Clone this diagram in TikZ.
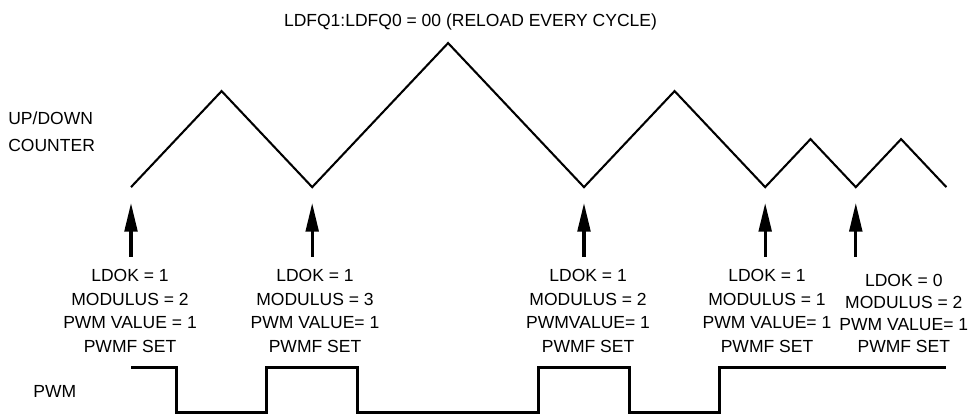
\documentclass[tikz,border=0pt]{standalone}
\usepackage{fontspec}
\setmainfont{Liberation Sans}
\usetikzlibrary{arrows.meta}

\begin{document}
\begin{tikzpicture}[>={Triangle[length=18pt,width=8pt]}, font=\fontsize{11}{15}\selectfont,
	   lbl/.style={align=center, inner sep=0pt},
	   ctr/.style={line width=1.3pt, line join=miter},
	   pwm/.style={line width=1.9pt},
	   arr/.style={->, line width=1.9pt}]
	  \useasboundingbox (-2.892,0) rectangle (18.698,9.161);
	  \node[lbl] (ttl) at (7.494,8.675) {LDFQ1:LDFQ0 = 00 (RELOAD EVERY CYCLE)};
	  \node[lbl, anchor=west, align=left, font=\fontsize{11}{17}\selectfont] (udc) at (-2.715,6.258) {UP/DOWN\\ COUNTER};
	  \node[lbl, anchor=west] (pwmlbl) at (-2.163,0.508) {PWM};
	  % counter
	  \draw[ctr] (0,5.03) -- (2,7.15) -- (4,5.03) -- (7,8.21) -- (10,5.03) -- (12,7.15) -- (14,5.03) -- (15,6.09) -- (16,5.03) -- (17,6.09) -- (18,5.03);
	  % reload points
	  \foreach \k/\n in {0/a,4/b,10/c,14/d,16/e}{
	    \coordinate (tail\n) at (\k,3.488);
	    \coordinate (tip\n) at (\k,4.68);
	    \draw[arr] (tail\n)--(tip\n);
	  }
	  \node[lbl] (lda) at (-0.022,2.296) {LDOK = 1\\ MODULUS = 2\\ PWM VALUE = 1\\ PWMF SET};
	  \node[lbl] (ldb) at (4.062,2.296) {LDOK = 1\\ MODULUS = 3\\ PWM VALUE= 1\\ PWMF SET};
	  \node[lbl] (ldc) at (10.09,2.296) {LDOK = 1\\ MODULUS = 2\\ PWMVALUE= 1\\ PWMF SET};
	  \node[lbl] (ldd) at (14.04,2.296) {LDOK = 1\\ MODULUS = 1\\ PWM VALUE= 1\\ PWMF SET};
	  \node[lbl, font=\fontsize{11}{14}\selectfont] (lde) at (17.06,2.24) {LDOK = 0\\ MODULUS = 2\\ PWM VALUE= 1\\ PWMF SET};
	  % pwm output
	  \draw[pwm] (0,1.04) -- (1,1.04) -- (1,0.06) -- (3,0.06) -- (3,1.04) -- (5,1.04) -- (5,0.06) -- (9,0.06) -- (9,1.04) -- (11,1.04) -- (11,0.06) -- (13,0.06) -- (13,1.04) -- (18,1.04);
	\end{tikzpicture}
\end{document}
